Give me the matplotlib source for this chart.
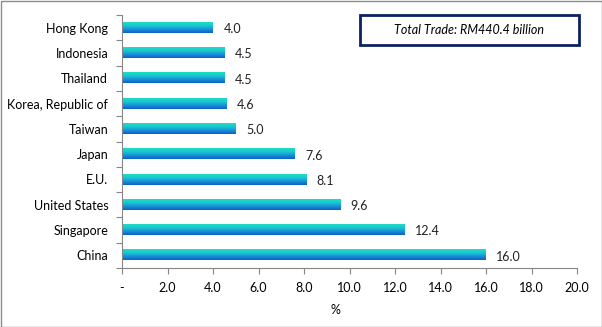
import numpy as np
import matplotlib
matplotlib.use("Agg")
import matplotlib.pyplot as plt
from matplotlib.colors import LinearSegmentedColormap
from matplotlib.patches import Rectangle

plt.rcParams['font.family'] = ['Lato', 'DejaVu Sans']
plt.rcParams['font.size'] = 9

countries = ["China", "Singapore", "United States", "E.U.", "Japan",
             "Taiwan", "Korea, Republic of", "Thailand", "Indonesia", "Hong Kong"]
share = [16.0, 12.4, 9.6, 8.1, 7.6, 5.0, 4.6, 4.5, 4.5, 4.0]
xticks = [0, 2, 4, 6, 8, 10, 12, 14, 16, 18, 20]
xlabels = ["-"] + ["%.1f" % t for t in xticks[1:]]

fig = plt.figure(figsize=(6.02, 3.27), dpi=100)
ax = fig.add_axes([0.2027, 0.1804, 0.7558, 0.7736])

# teal on top fading into blue at the bottom of each bar
cmap = LinearSegmentedColormap.from_list("bar", ["#0a5fc8", "#1a8fd8", "#18c8d0", "#20dcc4"])
grad = np.linspace(0, 1, 64).reshape(-1, 1)
h = 0.4
ypos = np.arange(len(countries))
for y, v in zip(ypos, share):
    ax.imshow(grad, cmap=cmap, aspect='auto', origin='lower',
              extent=(0, v, y - h / 2, y + h / 2), interpolation='bilinear', zorder=2)
    ax.annotate("%.1f" % v, (v, y), xytext=(7.5, -1), textcoords='offset points',
                va='center', ha='left', fontsize=9, color='#222222')

ax.set_xlim(0, 20)
ax.set_ylim(-0.5, len(countries) - 0.5)
ax.set_xticks(xticks)
ax.set_xticklabels(xlabels, fontsize=9)
ax.set_yticks(np.arange(-0.5, len(countries), 1.0))
ax.set_yticklabels([])
ax.set_yticks(ypos, minor=True)
ax.set_yticklabels(countries, minor=True, fontsize=9)
ax.tick_params(axis='y', which='minor', length=0, pad=10)
ax.tick_params(axis='y', which='major', length=4, color='#868686')
ax.tick_params(axis='x', length=4, color='#868686', pad=6)
for side in ['top', 'right']:
    ax.spines[side].set_visible(False)
for side in ['left', 'bottom']:
    ax.spines[side].set_color('#868686')

fig.text(335 / 602, 1 - 310 / 327, "%", ha='center', va='center', fontsize=9)

box = Rectangle((360 / 602, 1 - 44.5 / 327), 219 / 602, 30 / 327, transform=fig.transFigure,
                fill=False, edgecolor='#0c2260', linewidth=2)
fig.patches.append(box)
fig.text(469.5 / 602, 1 - 30 / 327, "Total Trade: RM440.4 billion", ha='center', va='center',
         fontsize=9, style='italic')

border = Rectangle((0.5 / 602, 0.5 / 327), 601 / 602, 326 / 327, transform=fig.transFigure,
                   fill=False, edgecolor='#8c8c8c', linewidth=1)
fig.patches.append(border)

fig.savefig("out.png", dpi=100)
